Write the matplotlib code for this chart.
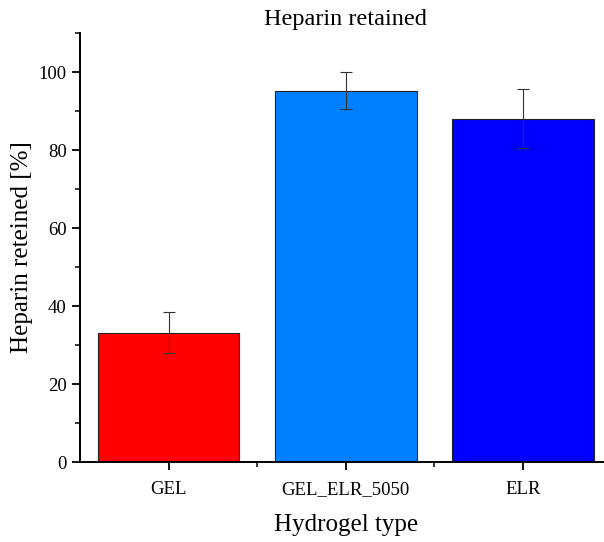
import numpy as np
import matplotlib
matplotlib.use("Agg")
import matplotlib.pyplot as plt

# data
categories = ["GEL", "GEL_ELR_5050", "ELR"]
retained = [33.2, 95.2, 88.0]
errors = [5.2, 4.7, 7.6]
colors = ["#ff0000", "#0080ff", "#0000ff"]

plt.rcParams['font.family'] = ['Liberation Serif', 'DejaVu Serif']

fig = plt.figure(figsize=(6.04, 5.42), dpi=100)
ax = fig.add_axes([0.1325, 0.1476, 0.880, 0.7915])

x = np.arange(len(categories))
ax.bar(x, retained, width=0.8, color=colors, edgecolor="#222222", linewidth=0.8, zorder=2)
ax.errorbar(x, retained, yerr=errors, fmt="none", ecolor="#333333",
            elinewidth=0.8, capsize=4, capthick=0.8, zorder=3)

ax.set_xlim(-0.5, 2.5)
ax.set_ylim(0, 110)
ax.set_xticks(x)
ax.set_xticklabels(categories, fontsize=13)
ax.set_xticks([0.5, 1.5], minor=True)
ax.set_yticks([0, 20, 40, 60, 80, 100])
ax.set_yticks([10, 30, 50, 70, 90, 110], minor=True)
ax.tick_params(axis="both", which="major", direction="out", length=6, width=1.3, labelsize=13.5)
ax.tick_params(axis="both", which="minor", direction="out", length=3.5, width=1.1)
ax.tick_params(axis="x", which="major", pad=8)

for s in ["top", "right"]:
    ax.spines[s].set_visible(False)
for s in ["left", "bottom"]:
    ax.spines[s].set_linewidth(1.4)

ax.set_title("Heparin retained", fontsize=17.5, pad=6)
ax.set_xlabel("Hydrogel type", fontsize=18, labelpad=11)
ax.set_ylabel("Heparin reteined [%]", fontsize=18, labelpad=4)

fig.savefig("out.png", dpi=100)
